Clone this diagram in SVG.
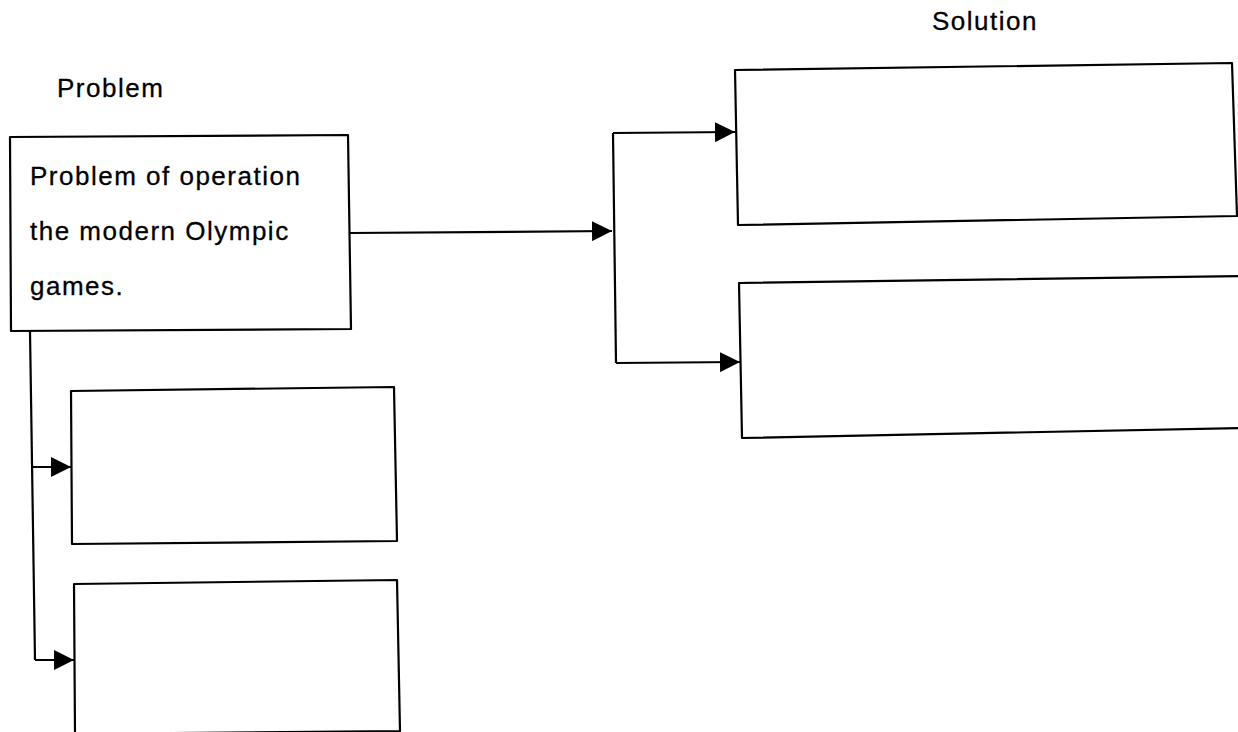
<svg xmlns="http://www.w3.org/2000/svg" width="1238" height="732" viewBox="0 0 1238 732">
<style>
.box{fill:#fff;stroke:#000;stroke-width:2.2;stroke-linejoin:round}
.ln{fill:none;stroke:#000;stroke-width:2.2}
.t{font-family:"Liberation Sans",Arial,sans-serif;font-size:26px;letter-spacing:1.5px;fill:#000;stroke:#000;stroke-width:0.3}
</style>
<defs>
<marker id="ah" viewBox="0 0 20 20" refX="20" refY="10" markerWidth="20" markerHeight="20" markerUnits="userSpaceOnUse" orient="auto">
<path d="M0,0 L20,10 L0,20 Z" fill="#000"/>
</marker>
</defs>
<rect width="1238" height="732" fill="#fff"/>
<text class="t" x="57" y="97">Problem</text>
<text class="t" x="932" y="30">Solution</text>
<g id="connectors">
<path class="ln" d="M350,233 L612,231" marker-end="url(#ah)"/>
<path class="ln" d="M613,133 L616,363"/>
<path class="ln" d="M613,133 L735,132" marker-end="url(#ah)"/>
<path class="ln" d="M616,363 L740,362" marker-end="url(#ah)"/>
<path class="ln" d="M30,331 L35,660"/>
<path class="ln" d="M32,467 L71,467" marker-end="url(#ah)"/>
<path class="ln" d="M35,660 L74,660" marker-end="url(#ah)"/>
</g>
<g id="problem">
<polygon class="box" points="10,137 348,135 351,329 11,331"/>
<text class="t" x="30" y="185">Problem of operation</text>
<text class="t" x="30" y="240">the modern Olympic</text>
<text class="t" x="30" y="295">games.</text>
</g>
<g id="solution1">
<polygon class="box" points="735,70 1232,63 1237,216 738,225"/>
</g>
<g id="solution2">
<polygon class="box" points="739,283 1240,276 1240,428 742,438"/>
</g>
<g id="cause1">
<polygon class="box" points="71,391 394,387 397,541 72,544"/>
</g>
<g id="cause2">
<polygon class="box" points="74,584 397,580 400,731 75,734"/>
</g>
</svg>
